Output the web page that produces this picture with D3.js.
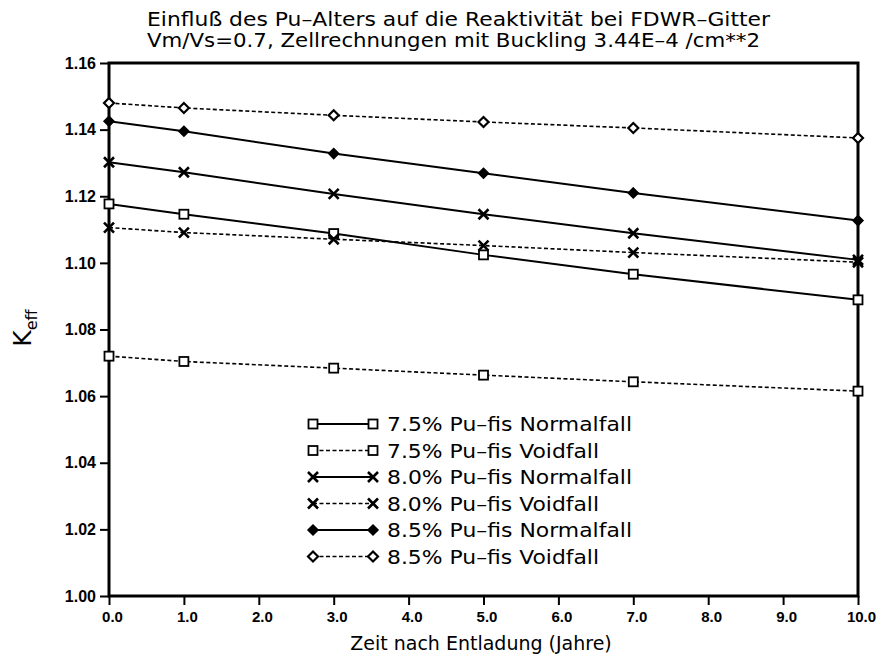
<!DOCTYPE html>
<html><head><meta charset="utf-8">
<script src="https://cdn.jsdelivr.net/npm/d3@7"></script>
<style>body{margin:0;background:#fff}svg{display:block}</style>
</head><body>
<svg id="c" width="877" height="656"></svg>
<script>
const years = [0, 1, 3, 5, 7, 10];
const normal75 = [1.1177, 1.1146, 1.1088, 1.1024, 1.0966, 1.0889];
const void75   = [1.0720, 1.0704, 1.0684, 1.0663, 1.0643, 1.0615];
const normal80 = [1.1302, 1.1272, 1.1207, 1.1146, 1.1089, 1.1009];
const void80   = [1.1106, 1.1091, 1.1071, 1.1052, 1.1031, 1.1002];
const normal85 = [1.1425, 1.1395, 1.1328, 1.1269, 1.1210, 1.1127];
const void85   = [1.1480, 1.1465, 1.1443, 1.1423, 1.1405, 1.1375];
const seriesNames = ["7.5% Pu–fis Normalfall","7.5% Pu–fis Voidfall","8.0% Pu–fis Normalfall","8.0% Pu–fis Voidfall","8.5% Pu–fis Normalfall","8.5% Pu–fis Voidfall"];
const xTicks = [0,1,2,3,4,5,6,7,8,9,10];
const yTicks = [1.00,1.02,1.04,1.06,1.08,1.10,1.12,1.14,1.16];
const titleLines = ["Einfluß des Pu–Alters auf die Reaktivität bei FDWR–Gitter","Vm/Vs=0.7, Zellrechnungen mit Buckling 3.44E–4 /cm**2"];
const xTitle = "Zeit nach Entladung (Jahre)";

const series = [
  {name: seriesNames[0], values: normal75, marker: "square", dashed: false},
  {name: seriesNames[1], values: void75,   marker: "square", dashed: true},
  {name: seriesNames[2], values: normal80, marker: "cross",  dashed: false},
  {name: seriesNames[3], values: void80,   marker: "cross",  dashed: true},
  {name: seriesNames[4], values: normal85, marker: "diamondFilled", dashed: false},
  {name: seriesNames[5], values: void85,   marker: "diamondOpen",   dashed: true}
];

const svg = d3.select("#c");
const L = 109, R = 858, T = 63, B = 596;
const x = d3.scaleLinear().domain([0,10]).range([L,R]);
const y = d3.scaleLinear().domain([1.00,1.16]).range([B,T]);
const font = "'DejaVu Sans', sans-serif";
const tickFont = "'Liberation Sans', Arial, sans-serif";

// title
svg.append("g").selectAll("text").data(titleLines).join("text")
  .attr("x", 147).attr("y", (d,i)=> 26 + i*21)
  .attr("font-family", font).attr("font-size", 19)
  .attr("textLength", (d,i)=> i===0 ? 623 : 613).attr("lengthAdjust","spacingAndGlyphs")
  .text(d=>d);

// axes
const xAxis = d3.axisBottom(x).tickValues(xTicks).tickSize(9).tickFormat(d3.format(".1f"));
const gx = svg.append("g").attr("transform", `translate(0,${B})`).call(xAxis);
gx.select(".domain").remove();
gx.selectAll(".tick line").attr("stroke","#000").attr("stroke-width",2);
gx.selectAll(".tick text").attr("font-family", tickFont).attr("font-weight","bold")
  .attr("font-size",15).attr("fill","#000").attr("dx", 3).attr("dy", 14);

const yAxis = d3.axisLeft(y).tickValues(yTicks).tickSize(9).tickFormat(d3.format(".2f"));
const gy = svg.append("g").attr("transform", `translate(${L},0)`).call(yAxis);
gy.select(".domain").remove();
gy.selectAll(".tick line").attr("stroke","#000").attr("stroke-width",2);
gy.selectAll(".tick text").attr("font-family", tickFont).attr("font-weight","bold")
  .attr("font-size",16).attr("fill","#000").attr("dx", -1);

// frame
svg.append("rect").attr("x",L).attr("y",T).attr("width",R-L).attr("height",B-T)
  .attr("fill","none").attr("stroke","#000").attr("stroke-width",3);

// axis titles
svg.append("text").attr("x", 481).attr("y", 650).attr("text-anchor","middle")
  .attr("font-family", font).attr("font-size", 19).text(xTitle);
const yl = svg.append("text").attr("transform","translate(31,328) rotate(-90)")
  .attr("text-anchor","middle").attr("font-family", font);
yl.append("tspan").attr("font-size",25).text("K");
yl.append("tspan").attr("font-size",16).attr("dy",6).text("eff");

// marker drawing
function drawMarker(g, type, cx, cy) {
  if (type === "square") {
    g.append("rect").attr("x",cx-4.5).attr("y",cy-4.5).attr("width",9).attr("height",9)
      .attr("fill","#fff").attr("stroke","#000").attr("stroke-width",1.8);
  } else if (type === "cross") {
    g.append("path").attr("d",`M${cx-5},${cy-5}L${cx+5},${cy+5}M${cx-5},${cy+5}L${cx+5},${cy-5}`)
      .attr("stroke","#000").attr("stroke-width",2.6).attr("fill","none");
  } else {
    const open = type === "diamondOpen";
    const r = 5;
    g.append("path").attr("d",`M${cx},${cy-r}L${cx+r},${cy}L${cx},${cy+r}L${cx-r},${cy}Z`)
      .attr("fill", open ? "#fff" : "#000").attr("stroke","#000").attr("stroke-width", open ? 2.2 : 1.5);
  }
}

const line = d3.line().x(d=>x(d[0])).y(d=>y(d[1]));
const plot = svg.append("g");
series.forEach(s => {
  const pts = years.map((yr,i)=>[yr, s.values[i]]);
  plot.append("path").attr("d", line(pts)).attr("fill","none").attr("stroke","#000")
    .attr("stroke-width", s.dashed ? 1.6 : 2)
    .attr("stroke-dasharray", s.dashed ? "4,2.5" : null);
});
series.forEach(s => {
  const g = plot.append("g");
  years.forEach((yr,i)=> drawMarker(g, s.marker, x(yr), y(s.values[i])));
});

// legend
const legY0 = 424, legDy = 26.5, lx1 = 313, lx2 = 373, tx = 387;
const leg = svg.append("g");
series.forEach((s,i) => {
  const ly = legY0 + i*legDy;
  leg.append("line").attr("x1",lx1).attr("x2",lx2).attr("y1",ly).attr("y2",ly)
    .attr("stroke","#000").attr("stroke-width", s.dashed ? 1.6 : 2)
    .attr("stroke-dasharray", s.dashed ? "4,2.5" : null);
  drawMarker(leg, s.marker, lx1, ly);
  drawMarker(leg, s.marker, lx2, ly);
  leg.append("text").attr("x",tx).attr("y",ly+7).attr("font-family",font).attr("font-size",19)
    .attr("textLength", s.name.includes("Normal") ? 245 : 212).attr("lengthAdjust","spacingAndGlyphs")
    .text(s.name);
});
</script>
</body></html>
